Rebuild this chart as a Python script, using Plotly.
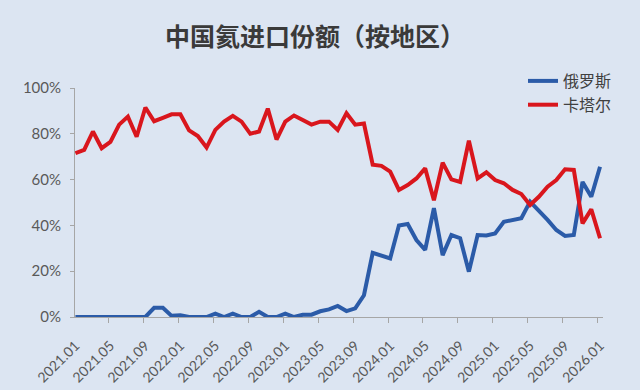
import plotly.graph_objects as go

months = [f"{2021 + i // 12}.{i % 12 + 1:02d}" for i in range(61)]

russia = [0, 0, 0, 0, 0, 0, 0, 0, 0, 4, 4, 0.5, 0.8, 0, 0, 0,
          1.5, 0, 1.5, 0, 0, 2.3, 0, 0, 1.5, 0, 1, 1, 2.5, 3.3,
          4.8, 2.6, 3.8, 9.5, 28, 27, 25.6, 40, 40.6, 33.6, 29.3,
          47.5, 27, 35.8, 34.4, 19.8, 35.8, 35.6, 36.5, 41.6, 42.4,
          43.1, 50.4, 46.7, 42.4, 38, 35.4, 35.8, 59, 52.5, 65.6]

qatar = [71.5, 73, 81, 73.7, 76.5, 84, 87.5, 78.7, 91.5, 85.5, 87,
         88.5, 88.5, 81.5, 79, 74, 81.7, 85.3, 87.8, 85.3, 80, 81,
         91, 77.5, 85.3, 88, 86, 84, 85.3, 85.3, 81.7, 89, 84, 84.5,
         66.5, 66, 63.5, 55.5, 57.6, 60.5, 64.9, 51, 67.4, 60.1, 59,
         77, 60.5, 63.2, 59.8, 58.4, 55.5, 53.7, 48.9, 52.5, 56.9,
         59.8, 64.5, 64.2, 40.9, 47, 34.4]

tick_idx = list(range(0, 61, 4))
tick_text = [months[i] for i in tick_idx]
y_ticks = [0, 20, 40, 60, 80, 100]
y_text = [f"{v}%" for v in y_ticks]

title = "中国氦进口份额（按地区）"
names = ["俄罗斯", "卡塔尔"]

x = list(range(len(months)))

fig = go.Figure()
fig.add_trace(go.Scatter(x=x, y=russia, mode="lines", name=names[0],
                         line=dict(color="#2b5ba8", width=4),
                         customdata=months))
fig.add_trace(go.Scatter(x=x, y=qatar, mode="lines", name=names[1],
                         line=dict(color="#d9161d", width=4),
                         customdata=months))

bg = "#dce5f2"
fig.update_layout(
    width=640, height=390,
    paper_bgcolor=bg, plot_bgcolor=bg,
    margin=dict(l=75, r=37, t=88, b=73, autoexpand=False),
    title=dict(text="<b>" + title + "</b>", x=315 / 640, xanchor="center",
               y=1 - 37 / 390, yanchor="middle", yref="container",
               font=dict(family="Noto Sans CJK SC", size=25, color="#3a3a3a")),
    legend=dict(x=523 / 640, xanchor="left", xref="container",
                y=1 - 64 / 390, yanchor="top", yref="container",
                bgcolor="rgba(0,0,0,0)",
                font=dict(family="Noto Sans CJK SC", size=16, color="#404040"),
                tracegroupgap=0, itemwidth=30),
    font=dict(family="Lato", color="#595959"),
    showlegend=True,
)
fig.update_xaxes(
    range=[-0.05, 60.34],
    tickmode="array", tickvals=tick_idx, ticktext=tick_text,
    tickangle=-45, tickfont=dict(size=14, color="#595959", family="Lato"),
    ticks="", ticklabelstandoff=14,
    showgrid=False, zeroline=False,
    showline=True, linecolor="#a6a6a6", linewidth=1,
    minor=dict(tickmode="array",
               tickvals=[3.75 + 4 * k for k in range(15)],
               ticks="outside", ticklen=5, tickcolor="#a6a6a6",
               showgrid=False),
)
fig.update_yaxes(
    range=[0, 100],
    tickmode="array", tickvals=y_ticks, ticktext=y_text,
    tickfont=dict(size=15, color="#595959", family="Lato"),
    ticks="outside", ticklen=4, tickcolor="#a6a6a6",
    showgrid=False, zeroline=False,
    showline=True, linecolor="#a6a6a6", linewidth=1,
    ticklabelstandoff=6,
)

fig.write_html("out.html")
